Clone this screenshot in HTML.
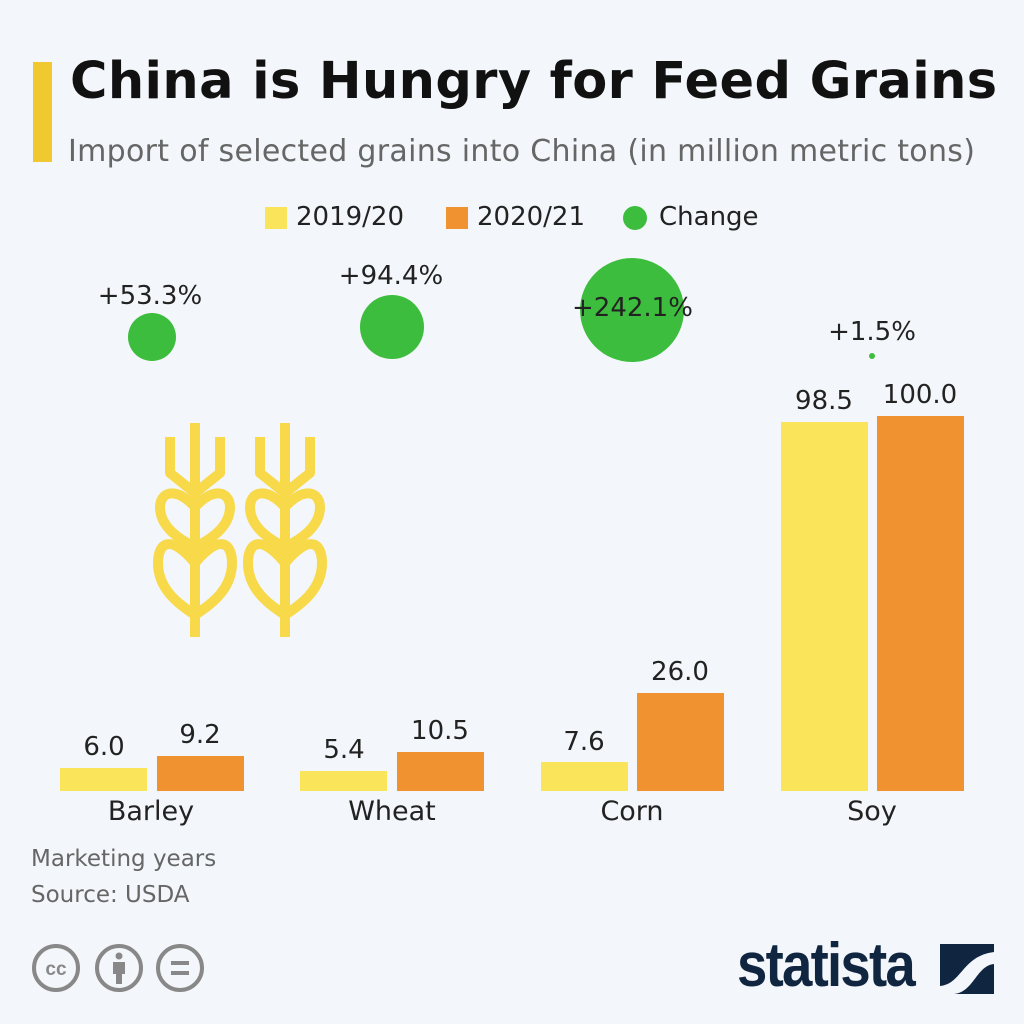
<!DOCTYPE html>
<html><head><style>
body{margin:0;width:1024px;height:1024px;background:#f3f6fa;font-family:"Liberation Sans","DejaVu Sans",sans-serif;position:relative;overflow:hidden}
.a{position:absolute;white-space:nowrap}
.t{font-family:"DejaVu Sans",sans-serif}
.b{position:absolute;bottom:233px;width:87px}
.y{background:#f9e45a}.o{background:#ef922f}
.v{position:absolute;font-size:26px;color:#222;text-align:center;width:120px;font-family:"DejaVu Sans",sans-serif}
.c{position:absolute;border-radius:50%;background:#3dbd3d}
</style></head><body>
<div class="a" style="left:33px;top:62px;width:19px;height:100px;background:#f0c830"></div>
<div class="a t" style="left:70px;top:52px;font-size:51px;font-weight:bold;color:#111;letter-spacing:0.4px">China is Hungry for Feed Grains</div>
<div class="a t" style="left:68px;top:134px;font-size:30px;color:#666;letter-spacing:0.3px">Import of selected grains into China (in million metric tons)</div>
<div class="a" style="left:265px;top:207px;width:22px;height:22px;background:#f9e45a"></div>
<div class="a t" style="left:296px;top:202px;font-size:26px;color:#222">2019/20</div>
<div class="a" style="left:446px;top:207px;width:22px;height:22px;background:#ef922f"></div>
<div class="a t" style="left:477px;top:202px;font-size:26px;color:#222">2020/21</div>
<div class="a" style="left:623px;top:206px;width:24px;height:24px;border-radius:50%;background:#3dbd3d"></div>
<div class="a t" style="left:659px;top:202px;font-size:26px;color:#222">Change</div>

<div class="c" style="left:128px;top:313px;width:48px;height:48px"></div>
<div class="c" style="left:360px;top:295px;width:64px;height:64px"></div>
<div class="c" style="left:580px;top:258px;width:104px;height:104px"></div>
<div class="c" style="left:869px;top:353px;width:6px;height:6px"></div>
<div class="v" style="left:90px;top:281px">+53.3%</div>
<div class="v" style="left:331px;top:261px">+94.4%</div>
<div class="v" style="left:572px;top:293px">+242.1%</div>
<div class="v" style="left:812px;top:317px">+1.5%</div>

<svg class="a" style="left:150px;top:415px" width="190" height="225" viewBox="0 0 190 225">
<g id="w" fill="none" stroke="#f7d94a" stroke-width="10" stroke-linejoin="round">
<path d="M45 8V222M20 22V58L45 78L70 58V22"/>
<path d="M45 92C25 70 10 78 10 92C10 112 30 125 45 132C60 125 80 112 80 92C80 78 65 70 45 92Z"/>
<path d="M45 148C20 118 8 128 8 148C8 175 30 190 45 200C60 190 82 175 82 148C82 128 70 118 45 148Z"/>
</g>
<use href="#w" x="90"/>
</svg>

<div class="b y" style="left:60px;height:23px"></div>
<div class="b o" style="left:157px;height:35px"></div>
<div class="b y" style="left:300px;height:20px"></div>
<div class="b o" style="left:397px;height:39px"></div>
<div class="b y" style="left:541px;height:29px"></div>
<div class="b o" style="left:637px;height:98px"></div>
<div class="b y" style="left:781px;height:369px"></div>
<div class="b o" style="left:877px;height:375px"></div>

<div class="v" style="left:44px;top:732px">6.0</div>
<div class="v" style="left:140px;top:720px">9.2</div>
<div class="v" style="left:284px;top:735px">5.4</div>
<div class="v" style="left:380px;top:716px">10.5</div>
<div class="v" style="left:524px;top:727px">7.6</div>
<div class="v" style="left:620px;top:657px">26.0</div>
<div class="v" style="left:764px;top:386px">98.5</div>
<div class="v" style="left:860px;top:380px">100.0</div>

<div class="v" style="left:91px;top:796px;font-size:27px">Barley</div>
<div class="v" style="left:332px;top:796px;font-size:27px">Wheat</div>
<div class="v" style="left:572px;top:796px;font-size:27px">Corn</div>
<div class="v" style="left:812px;top:796px;font-size:27px">Soy</div>

<div class="a t" style="left:31px;top:846px;font-size:23px;color:#666">Marketing years</div>
<div class="a t" style="left:31px;top:882px;font-size:23px;color:#666">Source: USDA</div>

<svg class="a" style="left:30px;top:942px" width="180" height="52">
<g fill="none" stroke="#888" stroke-width="4"><circle cx="26" cy="26" r="22"/><circle cx="89" cy="26" r="22"/><circle cx="150" cy="26" r="22"/></g>
<text x="26" y="33" font-size="19" font-weight="bold" fill="#888" text-anchor="middle" font-family="Liberation Sans">cc</text>
<circle cx="89" cy="14" r="3.5" fill="#888"/><rect x="83" y="20" width="12" height="12" fill="#888"/><rect x="86" y="30" width="6" height="12" fill="#888"/>
<rect x="141" y="19" width="18" height="4" fill="#888"/><rect x="141" y="29" width="18" height="4" fill="#888"/>
</svg>
<div class="a" style="left:737px;top:930px;font-size:62px;font-weight:bold;color:#102540;letter-spacing:-2px;transform:scaleX(0.88);transform-origin:left">statista</div>
<svg class="a" style="left:940px;top:944px" width="54" height="50"><rect width="54" height="50" fill="#102540"/><path d="M0 50V42C22 40 22 12 54 8V20C36 22 34 48 14 50Z" fill="#f3f6fa"/></svg>
</body></html>
